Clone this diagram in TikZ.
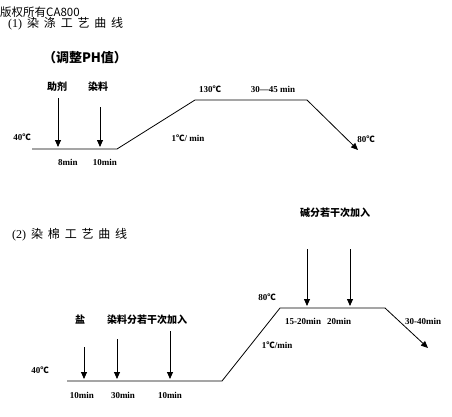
\documentclass[tikz,border=0pt]{standalone}
\usepackage{fontspec}
\setmainfont{Liberation Serif}
\newfontfamily\cjk{Noto Sans CJK SC}
\newfontfamily\cjkwide[LetterSpace=40]{Noto Sans CJK SC}
\usepackage{tikz}
\usetikzlibrary{arrows.meta}
\tikzset{
curve/.style = {line width=0.8pt},
feed/.style = {-{Triangle[length=7pt,width=6pt]}, line width=0.8pt},
lbl/.style = {inner sep=0pt, font=\cjk\fontsize{10}{10}\selectfont\bfseries},
num/.style = {inner sep=0pt, font=\fontsize{9}{9}\selectfont\bfseries}
}
\newcommand{\degc}{{\cjk\fontsize{8.5}{9}\selectfont ℃}}
\newcommand{\pnt}[2]{\coordinate (#1) at (#2);}
\newcommand{\feed}[2]{\draw[feed] (#1) -- (#2);}
\begin{document}
\begin{tikzpicture}[x=1pt,y=-1pt]
    \useasboundingbox (0,0) rectangle (452,416);
    % header
    \node[inner sep=0pt, anchor=west, font=\cjk\fontsize{11.5}{12}\selectfont] (copy) at (0,12) {版权所有CA800};
    \node[inner sep=0pt, anchor=west, font=\fontsize{12}{12}\selectfont] (t1) at (8,24) {(1)\hspace{5pt}{\cjkwide 染涤工艺曲线}};
    \node[inner sep=0pt, font=\cjk\fontsize{13}{13}\selectfont\bfseries] (ph) at (85,58) {（调整PH值）};

    % process 1
    \pnt{a0}{32,149};
    \pnt{a1}{117,149};
    \pnt{a2}{195,100};
    \pnt{a3}{307,100};
    \pnt{a4}{358,150};
    \draw[curve] (a0) -- (a1) -- (a2) -- (a3);
    \feed{a3}{a4};
    \pnt{f1}{58,98};
    \pnt{g1}{58,147};
    \pnt{f2}{100,107};
    \pnt{g2}{100,147};
    \feed{f1}{g1};
    \feed{f2}{g2};
    \node[lbl] (aux) at (57,87) {助剂};
    \node[lbl] (dye1) at (98,87) {染料};
    \node[num] (tA) at (22,137) {40\degc};
    \node[num] (m8) at (68,162) {8min};
    \node[num] (m10) at (105,162) {10min};
    \node[num] (r1) at (188,138) {1\degc/ min};
    \node[num] (tB) at (210,89) {130\degc};
    \node[num] (hold1) at (273,89) {30—45 min};
    \node[num] (tC) at (366,139) {80\degc};

    % process 2
    \node[inner sep=0pt, anchor=west, font=\fontsize{12}{12}\selectfont] (t2) at (12,235) {(2)\hspace{5pt}{\cjkwide 染棉工艺曲线}};
    \pnt{b0}{67,381};
    \pnt{b1}{222,381};
    \pnt{b2}{280,308};
    \pnt{b3}{385,308};
    \pnt{b4}{428,348};
    \draw[curve] (b0) -- (b1) -- (b2) -- (b3);
    \feed{b3}{b4};
    \pnt{s1}{84,347};
    \pnt{e1}{84,379};
    \pnt{s2}{117,339};
    \pnt{e2}{117,379};
    \pnt{s3}{170,331};
    \pnt{e3}{170,379};
    \pnt{s4}{307,249};
    \pnt{e4}{307,306};
    \pnt{s5}{350,249};
    \pnt{e5}{350,306};
    \feed{s1}{e1};
    \feed{s2}{e2};
    \feed{s3}{e3};
    \feed{s4}{e4};
    \feed{s5}{e5};
    \node[lbl] (salt) at (80,320) {盐};
    \node[lbl] (dye2) at (147,320) {染料分若干次加入};
    \node[lbl] (alk) at (335,213) {碱分若干次加入};
    \node[num] (tD) at (40,370) {40\degc};
    \node[num] (n1) at (82,395) {10min};
    \node[num] (n2) at (123,395) {30min};
    \node[num] (n3) at (170,395) {10min};
    \node[num] (r2) at (277,345) {1\degc/min};
    \node[num] (tE) at (267,297) {80\degc};
    \node[num] (n4) at (303,321) {15-20min};
    \node[num] (n5) at (339,321) {20min};
    \node[num] (hold2) at (423,321) {30-40min};
\end{tikzpicture}
\end{document}
